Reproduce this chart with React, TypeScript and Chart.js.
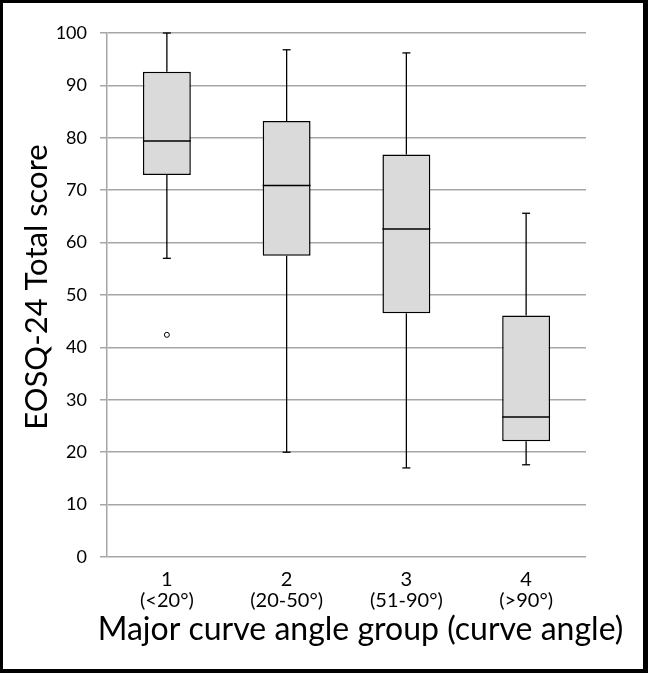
import React, { useEffect, useRef } from 'react';
import { Chart, registerables } from 'chart.js';

Chart.register(...registerables);

// box plot values per curve angle group
const groups = [['1', '(<20°)'], ['2', '(20-50°)'], ['3', '(51-90°)'], ['4', '(>90°)']];
const mins = [57, 20, 17, 17.6];
const q1s = [72.9, 57.5, 46.5, 22.1];
const medians = [79.4, 70.9, 62.6, 26.7];
const q3s = [92.6, 83.2, 76.8, 46.1];
const maxs = [100, 96.8, 96.2, 65.6];
const outliers = [42.4, null, null, null];

const xTitle = 'Major curve angle group (curve angle)';
const yTitle = 'EOSQ-24 Total score';

const FONT = 'Lato';

const boxPlugin = {
  id: 'boxWhiskers',
  beforeDatasetsDraw(chart: any) {
    const { ctx, scales } = chart;
    const x = scales.x;
    const y = scales.y;
    ctx.save();
    ctx.strokeStyle = '#000';
    ctx.lineWidth = 1.3;
    const seg = (x1: number, y1: number, x2: number, y2: number) => {
      ctx.beginPath();
      ctx.moveTo(x1, y1);
      ctx.lineTo(x2, y2);
      ctx.stroke();
    };
    groups.forEach((_, i) => {
      const cx = x.getPixelForValue(i);
      seg(cx, y.getPixelForValue(q3s[i]), cx, y.getPixelForValue(maxs[i]));
      seg(cx - 4, y.getPixelForValue(maxs[i]), cx + 4, y.getPixelForValue(maxs[i]));
      seg(cx, y.getPixelForValue(q1s[i]), cx, y.getPixelForValue(mins[i]));
      seg(cx - 4, y.getPixelForValue(mins[i]), cx + 4, y.getPixelForValue(mins[i]));
    });
    ctx.restore();
  },
  afterDatasetsDraw(chart: any) {
    const { ctx, scales } = chart;
    const y = scales.y;
    const meta = chart.getDatasetMeta(0);
    ctx.save();
    ctx.strokeStyle = '#000';
    ctx.lineWidth = 1.5;
    meta.data.forEach((bar: any, i: number) => {
      const my = y.getPixelForValue(medians[i]);
      ctx.beginPath();
      ctx.moveTo(bar.x - bar.width / 2, my);
      ctx.lineTo(bar.x + bar.width / 2, my);
      ctx.stroke();
    });
    ctx.restore();
  },
  afterDraw(chart: any) {
    // axis titles overhang the plot in the original, so they are drawn here
    const { ctx, chartArea } = chart;
    ctx.save();
    ctx.fillStyle = '#000';
    ctx.textAlign = 'center';
    ctx.textBaseline = 'middle';
    ctx.font = `32px ${FONT}`;
    ctx.fillText(xTitle, (chartArea.left + chartArea.right) / 2 + 14, chartArea.bottom + 73);
    ctx.translate(chartArea.left - 70, (chartArea.top + chartArea.bottom) / 2 - 8);
    ctx.rotate(-Math.PI / 2);
    ctx.font = `31px ${FONT}`;
    ctx.fillText(yTitle, 0, 0);
    ctx.restore();
  },
};

const BoxChart = () => {
  const canvasRef = useRef<HTMLCanvasElement>(null);

  useEffect(() => {
    const chart = new Chart(canvasRef.current as HTMLCanvasElement, {
      type: 'bar',
      data: {
        labels: groups as any,
        datasets: [
          {
            data: q1s.map((q, i) => [q, q3s[i]]) as any,
            backgroundColor: '#dadada',
            borderColor: '#000',
            borderWidth: 1.5,
            borderSkipped: false,
            categoryPercentage: 1,
            barPercentage: 0.4,
          },
          {
            type: 'line' as any,
            data: outliers as any,
            showLine: false,
            pointRadius: 2.5,
            pointBackgroundColor: '#fff',
            pointBorderColor: '#000',
            pointBorderWidth: 1,
          },
        ],
      },
      options: {
        animation: false,
        responsive: true,
        maintainAspectRatio: false,
        layout: { padding: { top: 30, right: 57, bottom: 0, left: 0 } },
        plugins: {
          legend: { display: false },
          tooltip: { enabled: false },
        },
        scales: {
          x: {
            grid: { display: false },
            border: { display: false },
            ticks: {
              color: '#000',
              padding: 4,
              font: { family: FONT, size: 20, lineHeight: 1.05 },
              maxRotation: 0,
            },
            afterFit: (s: any) => {
              s.height = 112;
              s.paddingLeft = 0;
              s.paddingRight = 0;
            },
          },
          y: {
            min: 0,
            max: 100,
            grid: { color: '#a6a6a6', lineWidth: 1.5, tickLength: 7 },
            border: { color: '#a6a6a6', width: 1.5 },
            ticks: {
              stepSize: 10,
              color: '#000',
              padding: 13,
              font: { family: FONT, size: 18 },
            },
            afterFit: (s: any) => {
              s.width = 104;
              s.paddingTop = 0;
              s.paddingBottom = 0;
            },
          },
        },
      },
      plugins: [boxPlugin],
    });

    return () => {
      chart.destroy();
    };
  }, []);

  return <canvas ref={canvasRef} />;
};

export default function App() {
  return (
    <div
      style={{
        position: 'absolute',
        left: 0,
        top: 0,
        width: 648,
        height: 673,
        boxSizing: 'border-box',
        borderStyle: 'solid',
        borderColor: '#000',
        borderWidth: '3px 5px 4px 3px',
        background: '#fff',
      }}
    >
      <div style={{ position: 'relative', width: 640, height: 666 }}>
        <BoxChart />
      </div>
    </div>
  );
}
